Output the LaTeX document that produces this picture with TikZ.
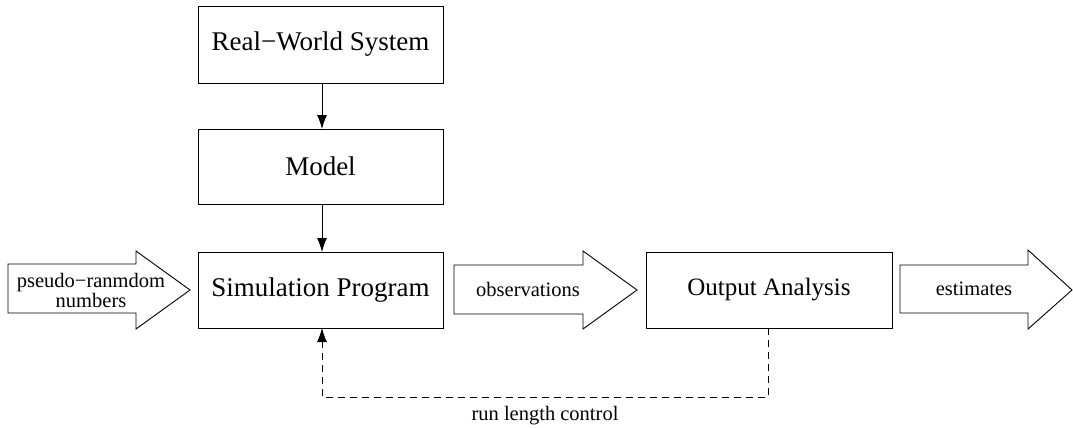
\documentclass[tikz,border=0pt]{standalone}
\usepackage{fontspec}
\setmainfont{Liberation Serif}
\usetikzlibrary{arrows.meta}
\begin{document}
\begin{tikzpicture}[x=1pt,y=-1pt,
  box/.style={draw,line width=0.9pt},
  blk/.style={draw,line width=0.9pt,line join=miter},
  bigtxt/.style={font=\fontsize{27}{30}\selectfont},
  midtxt/.style={font=\fontsize{25}{28}\selectfont},
  smalltxt/.style={font=\fontsize{20.5}{20}\selectfont,align=center},
  conn/.style={line width=0.9pt,-{Latex[length=14pt,width=10pt]}}]
\useasboundingbox (0,0) rectangle (1073,428);
% boxes
\draw[box] (198,6) rectangle (443,83);
\node[bigtxt] (rw) at (320.5,44.5) {Real\textminus World System};
\draw[box] (198,129) rectangle (443,204);
\node[bigtxt] (model) at (320.5,166.5) {Model};
\draw[box] (198,252) rectangle (443,328);
\node[bigtxt] (sim) at (320.5,290) {Simulation Program};
\draw[box] (646,252) rectangle (892,328);
\node[midtxt] (out) at (769,290) {Output Analysis};
\coordinate (rwb) at (322,83);
\coordinate (mt) at (322,129);
\coordinate (mb) at (322,204);
\coordinate (st) at (322,252);
\coordinate (sb) at (322,328);
\coordinate (ob) at (768,328);
\coordinate (dr) at (768,397);
\coordinate (dl) at (322,397);
% vertical arrows
\draw[conn] (rwb) -- (mt);
\draw[conn] (mb) -- (st);
% block arrows
\draw[blk] (8,264) -- (136,264) -- (136,251) -- (190,290) -- (136,329) -- (136,313) -- (8,313) -- cycle;
\node[smalltxt] (prn) at (91,290) {pseudo\textminus ranmdom\\numbers};
\draw[blk] (454,265) -- (583,265) -- (583,251) -- (637,290) -- (583,329) -- (583,314) -- (454,314) -- cycle;
\node[smalltxt] (obs) at (528,289) {observations};
\draw[blk] (900,265) -- (1028,265) -- (1028,250) -- (1072,290) -- (1028,329) -- (1028,313) -- (900,313) -- cycle;
\node[smalltxt] (est) at (974,289) {estimates};
% dashed feedback
\draw[conn,dash pattern=on 7pt off 5pt] (ob) -- (dr) -- (dl) -- (sb);
\node[smalltxt] (rlc) at (545,416) {run length control};
\end{tikzpicture}
\end{document}
